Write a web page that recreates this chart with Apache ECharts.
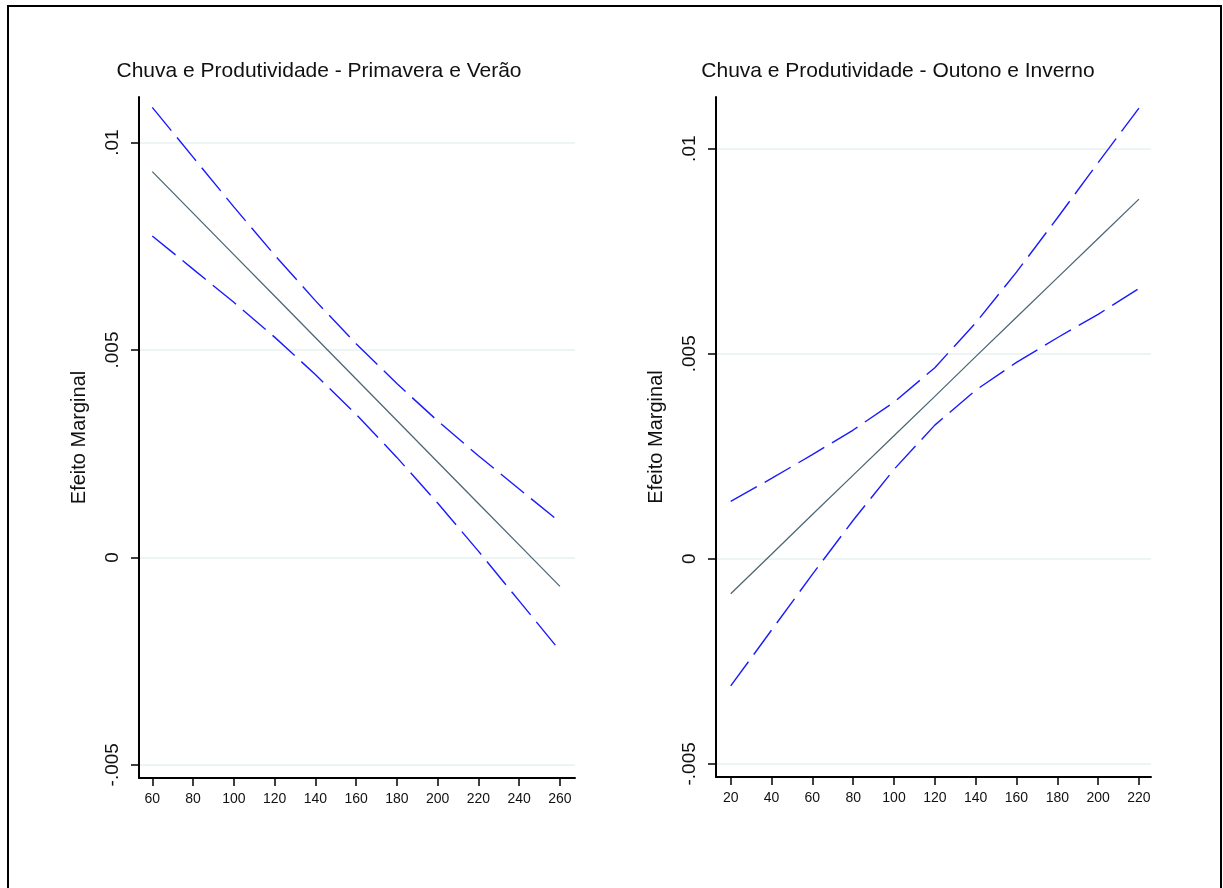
<!DOCTYPE html>
<html>
<head>
<meta charset="utf-8">
<style>
  html, body { margin: 0; padding: 0; background: #fff; }
  #chart { width: 1223px; height: 888px; }
</style>
<script src="https://cdn.jsdelivr.net/npm/echarts@6/dist/echarts.min.js"></script>
</head>
<body>
<div id="chart"></div>
<script>
// Primavera e Verão (left panel)
const springX = [60, 80, 100, 120, 140, 160, 180, 200, 220, 240, 260];
const springMid = [0.0093, 0.0083, 0.0073, 0.0063, 0.0053, 0.0043, 0.0033, 0.0023, 0.0013, 0.0003, -0.0007];
const springUpper = [0.01085, 0.00965, 0.00845, 0.00729, 0.00619, 0.00515, 0.00419, 0.00329, 0.00245, 0.00165, 0.00085];
const springLower = [0.00775, 0.00695, 0.00615, 0.00531, 0.00441, 0.00345, 0.00241, 0.00131, 0.00015, -0.00105, -0.00225];

// Outono e Inverno (right panel)
const fallX = [20, 40, 60, 80, 100, 120, 140, 160, 180, 200, 220];
const fallMid = [-0.00085, 0.00011, 0.00108, 0.00204, 0.003, 0.00396, 0.00493, 0.00589, 0.00685, 0.00781, 0.00877];
const fallUpper = [0.0014, 0.00196, 0.00254, 0.00314, 0.00382, 0.00466, 0.00575, 0.00699, 0.00831, 0.00966, 0.01099];
const fallLower = [-0.0031, -0.00174, -0.00038, 0.00094, 0.00218, 0.00326, 0.00411, 0.00479, 0.00539, 0.00596, 0.00659];

const yTicks = [-0.005, 0, 0.005, 0.01];
const yTickLabels = ['-.005', '0', '.005', '.01'];
const springTicks = [60, 80, 100, 120, 140, 160, 180, 200, 220, 240, 260];
const fallTicks = [20, 40, 60, 80, 100, 120, 140, 160, 180, 200, 220];

const titles = ['Chuva e Produtividade - Primavera e Verão', 'Chuva e Produtividade - Outono e Inverno'];
const yName = 'Efeito Marginal';

const FONT = '"Liberation Sans", Arial, sans-serif';
const MID_COLOR = '#4f6875';
const CI_COLOR = '#1a1aff';

function pairs(xs, ys) {
  return xs.map((x, i) => [x, ys[i]]);
}

function xAxisFor(idx, min, max, ticks) {
  return {
    type: 'value',
    gridIndex: idx,
    min: min,
    max: max,
    axisLine: { onZero: false, lineStyle: { color: '#000', width: 2 } },
    axisTick: { show: true, length: 8, customValues: ticks, lineStyle: { color: '#000', width: 1.5 } },
    axisLabel: { customValues: ticks, margin: 14, fontSize: 14, color: '#111', fontFamily: FONT },
    splitLine: { show: false }
  };
}

function yAxisFor(idx, min, max) {
  return {
    type: 'value',
    gridIndex: idx,
    min: min,
    max: max,
    name: yName,
    nameLocation: 'middle',
    nameRotate: 90,
    nameGap: 50,
    nameTextStyle: { fontSize: 20, color: '#111', fontFamily: FONT },
    axisLine: { show: true, onZero: false, lineStyle: { color: '#000', width: 2 } },
    axisTick: { show: true, length: 8, customValues: yTicks, lineStyle: { color: '#000', width: 1.5 } },
    axisLabel: {
      customValues: yTicks,
      rotate: 90,
      margin: 17,
      fontSize: 19,
      color: '#111',
      fontFamily: FONT,
      formatter: v => {
        const i = yTicks.findIndex(t => Math.abs(t - v) < 1e-9);
        return i >= 0 ? yTickLabels[i] : '';
      }
    },
    splitLine: { show: true, lineStyle: { color: '#e6f0f1', width: 1.5 } }
  };
}

function line(idx, data, dashed) {
  return {
    type: 'line',
    xAxisIndex: idx,
    yAxisIndex: idx,
    data: data,
    showSymbol: false,
    silent: true,
    lineStyle: dashed
      ? { color: CI_COLOR, width: 1.4, type: [30, 9] }
      : { color: MID_COLOR, width: 1.3 }
  };
}

const chart = echarts.init(document.getElementById('chart'), null, { renderer: 'canvas' });

chart.setOption({
  animation: false,
  backgroundColor: '#fff',
  title: [
    { text: titles[0], left: 319, top: 61, textAlign: 'center', padding: 0,
      textStyle: { fontSize: 21, fontWeight: 'normal', color: '#111', fontFamily: FONT } },
    { text: titles[1], left: 898, top: 61, textAlign: 'center', padding: 0,
      textStyle: { fontSize: 21, fontWeight: 'normal', color: '#111', fontFamily: FONT } }
  ],
  grid: [
    { left: 139, top: 97, width: 436, height: 681 },
    { left: 716, top: 97, width: 435, height: 680 }
  ],
  xAxis: [
    xAxisFor(0, 53.48, 267.4, springTicks),
    xAxisFor(1, 12.8, 225.9, fallTicks)
  ],
  yAxis: [
    yAxisFor(0, -0.00532, 0.0111),
    yAxisFor(1, -0.00532, 0.01126)
  ],
  series: [
    line(0, pairs(springX, springUpper), true),
    line(0, pairs(springX, springLower), true),
    line(0, pairs(springX, springMid), false),
    line(1, pairs(fallX, fallUpper), true),
    line(1, pairs(fallX, fallLower), true),
    line(1, pairs(fallX, fallMid), false)
  ],
  graphic: [
    {
      type: 'rect',
      shape: { x: 8, y: 6, width: 1213, height: 900 },
      style: { fill: 'none', stroke: '#000', lineWidth: 2 },
      silent: true
    }
  ]
});
</script>
</body>
</html>
